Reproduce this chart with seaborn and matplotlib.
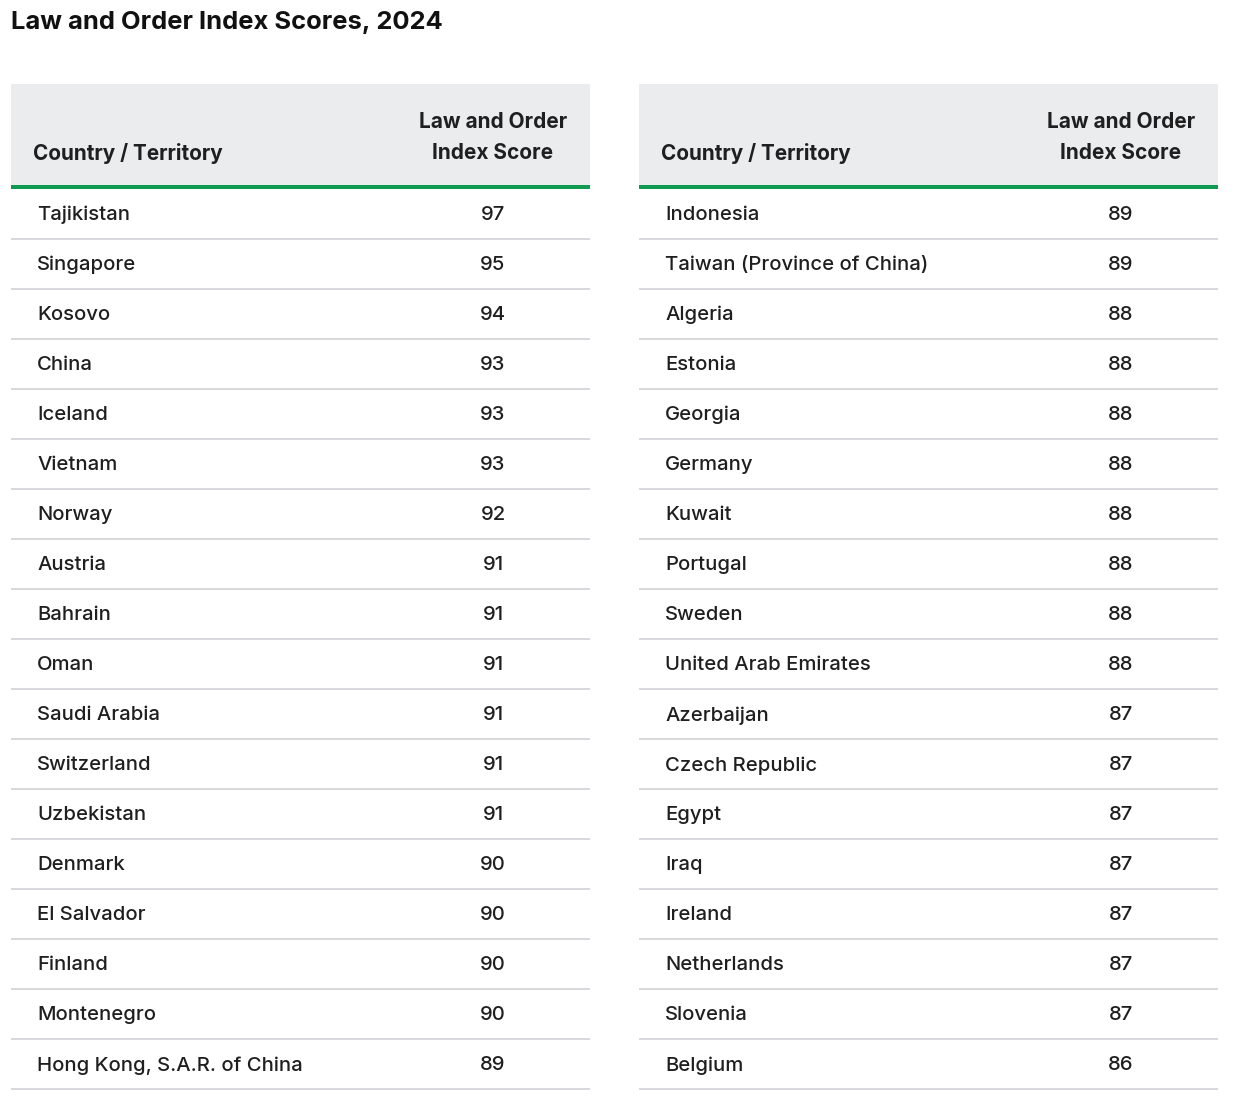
import matplotlib
matplotlib.use("Agg")
import matplotlib.pyplot as plt
import seaborn as sns

title = "Law and Order Index Scores, 2024"
col_country = "Country / Territory"
col_score = ["Law and Order", "Index Score"]

countries_left = ["Tajikistan", "Singapore", "Kosovo", "China", "Iceland", "Vietnam",
                  "Norway", "Austria", "Bahrain", "Oman", "Saudi Arabia", "Switzerland",
                  "Uzbekistan", "Denmark", "El Salvador", "Finland", "Montenegro",
                  "Hong Kong, S.A.R. of China"]
scores_left = [97, 95, 94, 93, 93, 93, 92, 91, 91, 91, 91, 91, 91, 90, 90, 90, 90, 89]

countries_right = ["Indonesia", "Taiwan (Province of China)", "Algeria", "Estonia", "Georgia",
                   "Germany", "Kuwait", "Portugal", "Sweden", "United Arab Emirates",
                   "Azerbaijan", "Czech Republic", "Egypt", "Iraq", "Ireland",
                   "Netherlands", "Slovenia", "Belgium"]
scores_right = [89, 89, 88, 88, 88, 88, 88, 88, 88, 88, 87, 87, 87, 87, 87, 87, 87, 86]

sns.set_theme(style="white")
plt.rcParams['font.family'] = ['Inter', 'DejaVu Sans']

W, H = 1246, 1110
fig = plt.figure(figsize=(W / 100, H / 100), dpi=100)

HEADER_BG = "#EBECEE"
GREEN = "#0E9A4F"
SEP = "#D3D6DA"
TXT = "#1F1F1F"

def px_axes(x0, y0, x1, y1):
    return fig.add_axes([x0 / W, 1 - y1 / H, (x1 - x0) / W, (y1 - y0) / H])

def draw_table(ax, countries, scores):
    n = len(countries)
    width = 579
    ax.set_xlim(0, width)
    ax.set_ylim(n + 0.03, -2.1)
    ax.axis("off")
    ax.axhspan(-2.1, -0.08, color=HEADER_BG, lw=0)
    ax.axhspan(-0.08, 0, color=GREEN, lw=0)
    ax.text(22, -0.72, col_country, ha="left", va="center", fontsize=14.9,
            fontweight="bold", color=TXT)
    ax.text(482, -1.34, col_score[0], ha="center", va="center", fontsize=15.0,
            fontweight="bold", color=TXT)
    ax.text(482, -0.72, col_score[1], ha="center", va="center", fontsize=15.0,
            fontweight="bold", color=TXT)
    for i, (c, s) in enumerate(zip(countries, scores)):
        yc = i + 0.52
        ax.text(26, yc, c, ha="left", va="center", fontsize=14.6, color=TXT,
                fontweight="medium")
        ax.text(482, yc, str(s), ha="center", va="center", fontsize=14.6, color=TXT,
                fontweight="medium")
        ax.hlines(i + 1, 0, width, color=SEP, lw=1.3)

axL = px_axes(11, 84, 590, 1091)
draw_table(axL, countries_left, scores_left)
axR = px_axes(639, 84, 1218, 1091)
draw_table(axR, countries_right, scores_right)

fig.text(11 / W, 1 - 23 / H, title, ha="left", va="center", fontsize=18.4,
         fontweight="bold", color="#111111")

fig.savefig("out.png", dpi=100, facecolor="white")
